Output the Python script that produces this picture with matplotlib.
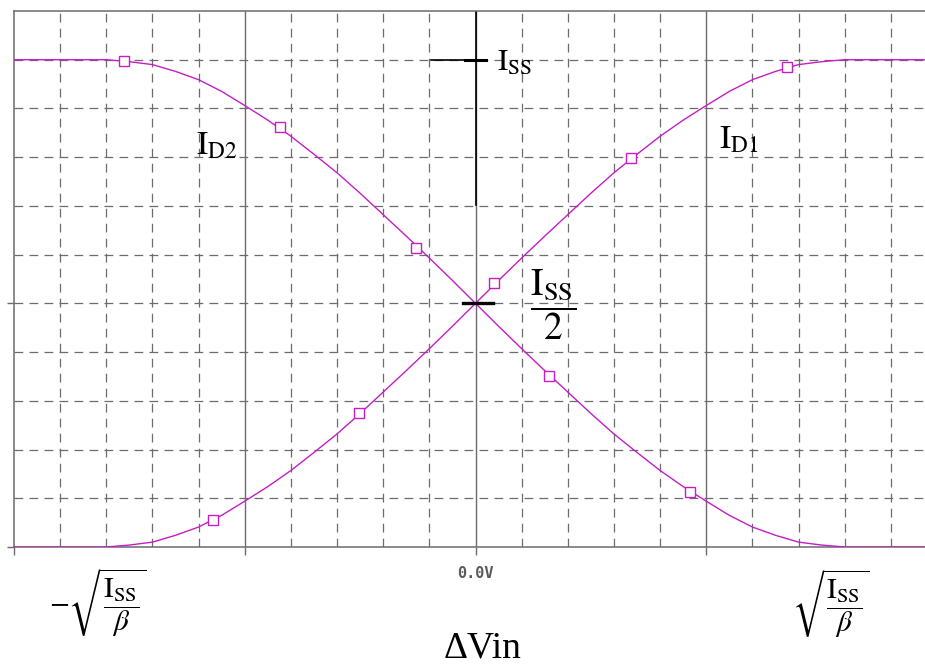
import matplotlib.pyplot as plt

plt.rcParams['mathtext.fontset'] = 'stix'

# differential input voltage (grid units) and drain currents normalised to Iss
dvin = [-1.0, -0.95, -0.9, -0.85, -0.8, -0.75, -0.7, -0.65, -0.6, -0.55, -0.5,
        -0.45, -0.4, -0.35, -0.3, -0.25, -0.2, -0.15, -0.1, -0.05, 0.0,
        0.05, 0.1, 0.15, 0.2, 0.25, 0.3, 0.35, 0.4, 0.45, 0.5,
        0.55, 0.6, 0.65, 0.7, 0.75, 0.8, 0.85, 0.9, 0.95, 1.0]
id1 = [0.0, 0.0, 0.0, 0.0, 0.0, 0.004, 0.010, 0.024, 0.041, 0.065, 0.094,
       0.124, 0.157, 0.194, 0.232, 0.274, 0.318, 0.362, 0.407, 0.453, 0.5,
       0.547, 0.593, 0.638, 0.682, 0.726, 0.768, 0.806, 0.843, 0.876, 0.906,
       0.935, 0.959, 0.976, 0.990, 0.996, 1.0, 1.0, 1.0, 1.0, 1.0]
id2 = [1.0, 1.0, 1.0, 1.0, 1.0, 0.996, 0.990, 0.976, 0.959, 0.935, 0.906,
       0.876, 0.843, 0.806, 0.768, 0.726, 0.682, 0.638, 0.593, 0.547, 0.5,
       0.453, 0.407, 0.362, 0.318, 0.274, 0.232, 0.194, 0.157, 0.124, 0.094,
       0.065, 0.041, 0.024, 0.010, 0.004, 0.0, 0.0, 0.0, 0.0, 0.0]

# trace symbols
id1MarkX = [-0.569, -0.253, 0.041, 0.338, 0.675]
id1MarkY = [0.055, 0.275, 0.542, 0.799, 0.986]
id2MarkX = [-0.762, -0.424, -0.128, 0.160, 0.465]
id2MarkY = [0.998, 0.862, 0.614, 0.351, 0.113]

gridX = [-0.9, -0.8, -0.7, -0.6, -0.5, -0.4, -0.3, -0.2, -0.1, 0.0,
         0.1, 0.2, 0.3, 0.4, 0.5, 0.6, 0.7, 0.8, 0.9]
gridY = [0.1, 0.2, 0.3, 0.4, 0.5, 0.6, 0.7, 0.8, 0.9, 1.0]
majorX = [-0.5, 0.0, 0.5]

traceColor = '#c41ec4'
gridColor = '#6e6a6e'

fig = plt.figure(figsize=(9.25, 6.68), dpi=100)
ax = fig.add_axes([14 / 925, 121 / 668, 923 / 925, 536 / 668])
ax.set_xlim(-1.0, 1.0)
ax.set_ylim(0.0, 1.1)

for x in gridX:
    if x in majorX:
        ax.axvline(x, color=gridColor, linewidth=1.0, zorder=1)
    else:
        ax.axvline(x, color=gridColor, linewidth=0.9, linestyle=(0, (7, 5)), zorder=1)
for y in gridY:
    ax.axhline(y, color=gridColor, linewidth=0.9, linestyle=(0, (7, 5)), zorder=1)

ax.plot(dvin, id1, color=traceColor, linewidth=1.0, zorder=3)
ax.plot(dvin, id2, color=traceColor, linewidth=1.0, zorder=3)
ax.plot(id1MarkX, id1MarkY, linestyle='none', marker='s', markersize=7, markerfacecolor='white',
        markeredgecolor=traceColor, markeredgewidth=1.0, zorder=4)
ax.plot(id2MarkX, id2MarkY, linestyle='none', marker='s', markersize=7, markerfacecolor='white',
        markeredgecolor=traceColor, markeredgewidth=1.0, zorder=4)

# Iss and Iss/2 level marks
ax.plot([0.0, 0.0], [0.702, 1.1], color='black', linewidth=1.2, zorder=2)
ax.plot([-0.097, 0.022], [1.0, 1.0], color='black', linewidth=1.2, zorder=2)
ax.plot([-0.022, 0.022], [1.0, 1.0], color='black', linewidth=2.2, zorder=2)
ax.plot([-0.028, 0.037], [0.5, 0.5], color='black', linewidth=2.4, zorder=5)

ax.text(0.047, 0.995, r'$\mathrm{I_{SS}}$', fontsize=22, ha='left', va='center')
ax.text(-0.561, 0.825, r'$\mathrm{I_{D2}}$', fontsize=24, ha='center', va='center')
ax.text(0.570, 0.838, r'$\mathrm{I_{D1}}$', fontsize=24, ha='center', va='center')
ax.text(0.168, 0.497, r'$\dfrac{\mathrm{I_{SS}}}{2}$', fontsize=27, ha='center', va='center')

for side in ['left', 'bottom', 'top']:
    ax.spines[side].set_color(gridColor)
    ax.spines[side].set_linewidth(1.1)
ax.spines['right'].set_visible(False)

ax.set_yticks([0.0, 0.5])
ax.set_yticklabels([])
ax.tick_params(axis='y', direction='out', length=5, width=1.0, color=gridColor)
ax.set_xticks([-1.0, -0.5, 0.0, 0.5, 1.0])
ax.set_xticklabels(['', '', '0.0V', '', ''], family='DejaVu Sans Mono', fontsize=11,
                   fontweight='bold', color='#5a5a5a')
ax.tick_params(axis='x', direction='out', length=6, width=1.0, color=gridColor, pad=8)

fig.text(98 / 925, 1 - 603 / 668, r'$-\sqrt{\dfrac{\mathrm{I_{SS}}}{\beta}}$', fontsize=21,
         ha='center', va='center')
fig.text(831 / 925, 1 - 604 / 668, r'$\sqrt{\dfrac{\mathrm{I_{SS}}}{\beta}}$', fontsize=21,
         ha='center', va='center')
fig.text(483 / 925, 1 - 648 / 668, 'ΔVin', family='Liberation Serif', fontsize=27,
         ha='center', va='center')

plt.savefig('out.png', dpi=100)
